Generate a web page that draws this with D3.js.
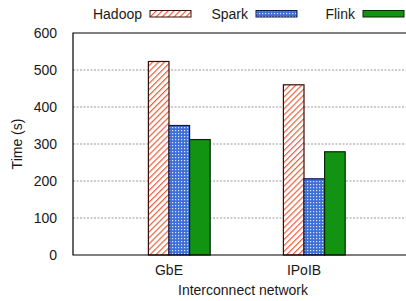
<!DOCTYPE html>
<html>
<head>
  <meta charset="UTF-8">
  <style>
    body { margin: 0; background: #fff; }
    text { font-family: "Liberation Sans", Arial, sans-serif; fill: #1a1a1a; }
  </style>
</head>
<body>
<svg></svg>
<script src="https://d3js.org/d3.v7.min.js"></script>

<script>

let width = 406, height = 301;

// data
let networks = ["GbE", "IPoIB"];
let frameworks = ["Hadoop", "Spark", "Flink"];
let hadoop = [523, 460];
let spark = [350, 206];
let flink = [312, 279];
let yTicks = [0, 100, 200, 300, 400, 500, 600];

let values = [hadoop, spark, flink];

let svg = d3.select("svg")
    .attr("width", width)
    .attr("height", height);

// fill patterns
let defs = svg.append("defs");

let hatch = defs.append("pattern")
    .attr("id", "hatch")
    .attr("patternUnits", "userSpaceOnUse")
    .attr("width", 4.2).attr("height", 4.2)
    .attr("patternTransform", "rotate(45)");
hatch.append("rect").attr("width", 4.2).attr("height", 4.2).attr("fill", "#fff");
hatch.append("rect").attr("x", 0).attr("width", 1.2).attr("height", 4.2).attr("fill", "#e8603c");

let dots = defs.append("pattern")
    .attr("id", "dots")
    .attr("patternUnits", "userSpaceOnUse")
    .attr("width", 3).attr("height", 3);
dots.append("rect").attr("width", 3).attr("height", 3).attr("fill", "#3d6fd6");
dots.append("rect").attr("x", 1).attr("y", 1).attr("width", 1.2).attr("height", 1.2).attr("fill", "#dfe8fb");

let fills = ["url(#hatch)", "url(#dots)", "#129412"];
let strokes = ["#3a0d06", "#0e1a4a", "#062806"];

// plot area
let mLeft = 73, mTop = 33, mBottom = 255, mRight = 420;

let y = d3.scaleLinear().domain([0, 600]).range([mBottom, mTop]);
let x = d3.scaleLinear().domain([-0.711, 1]).range([mLeft, 304]);
let bw = 20.6;
let xs = d3.scaleBand().domain(frameworks).range([-bw, 2 * bw]).padding(0);

// grid
svg.append("g")
    .selectAll("line")
    .data(yTicks.filter(d => d > 0 && d < 600))
    .enter()
    .append("line")
    .attr("x1", mLeft).attr("x2", mRight)
    .attr("y1", d => y(d)).attr("y2", d => y(d))
    .attr("stroke", "#999")
    .attr("stroke-width", 1)
    .attr("stroke-dasharray", "2,1.5");

// bars
frameworks.forEach((f, j) => {
  svg.append("g")
    .selectAll("rect")
    .data(values[j])
    .enter()
    .append("rect")
    .attr("x", (d, i) => x(i) + xs(f))
    .attr("y", d => y(d))
    .attr("width", xs.bandwidth())
    .attr("height", d => y(0) - y(d))
    .attr("fill", fills[j])
    .attr("stroke", strokes[j])
    .attr("stroke-width", 1.2);
});

// frame
svg.append("path")
    .attr("d", `M${mRight},${mTop}H${mLeft}V${mBottom}H${mRight}`)
    .attr("fill", "none")
    .attr("stroke", "#000")
    .attr("stroke-width", 1.2);

// y axis labels
svg.append("g")
    .selectAll("text")
    .data(yTicks)
    .enter()
    .append("text")
    .attr("x", 57)
    .attr("y", d => y(d))
    .attr("dy", "0.35em")
    .attr("text-anchor", "end")
    .attr("font-size", 14)
    .text(d => d);

svg.append("text")
    .attr("transform", `translate(22,144) rotate(-90)`)
    .attr("text-anchor", "middle")
    .attr("font-size", 14)
    .text("Time (s)");

// x axis labels
svg.append("g")
    .selectAll("text")
    .data(networks)
    .enter()
    .append("text")
    .attr("x", (d, i) => x(i))
    .attr("y", 275)
    .attr("text-anchor", "middle")
    .attr("font-size", 14)
    .text(d => d);

svg.append("text")
    .attr("x", 243)
    .attr("y", 295)
    .attr("text-anchor", "middle")
    .attr("font-size", 14)
    .text("Interconnect network");

// legend
let legendEnd = [142, 248, 355];
let legend = svg.append("g")
    .selectAll("g")
    .data(frameworks)
    .enter()
    .append("g");

legend.append("text")
    .attr("x", (d, i) => legendEnd[i])
    .attr("y", 19)
    .attr("text-anchor", "end")
    .attr("font-size", 14)
    .text(d => d);

legend.append("rect")
    .attr("x", (d, i) => legendEnd[i] + 8)
    .attr("y", 10.5)
    .attr("width", 41)
    .attr("height", 6.5)
    .attr("fill", (d, i) => fills[i])
    .attr("stroke", (d, i) => strokes[i])
    .attr("stroke-width", 1);

</script>

</body>
</html>
